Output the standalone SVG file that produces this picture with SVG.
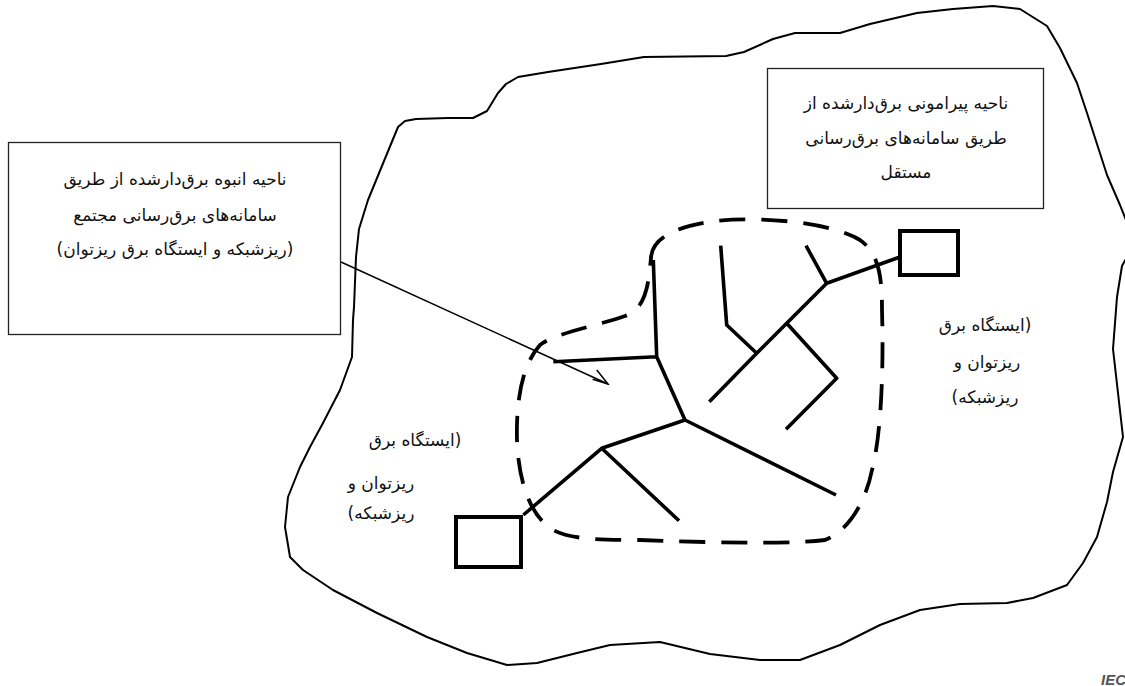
<svg xmlns="http://www.w3.org/2000/svg" width="1125" height="686" viewBox="0 0 1125 686">
<style>
.t{font-family:"DejaVu Sans","Noto Sans",sans-serif;font-size:17px;fill:#111;direction:rtl;text-anchor:middle}
.box{fill:#fff;stroke:#222;stroke-width:1.3}
.sq{fill:#fff;stroke:#000;stroke-width:4}
.ln{fill:none;stroke:#000;stroke-width:3.6;stroke-linecap:butt;stroke-linejoin:round}
.outline{fill:none;stroke:#000;stroke-width:2;stroke-linejoin:round}
.dash{fill:none;stroke:#000;stroke-width:3.8;stroke-dasharray:26 16}
</style>
<defs>
<marker id="ah" markerWidth="20" markerHeight="20" refX="18" refY="10" orient="auto" markerUnits="userSpaceOnUse">
<path d="M2,2 L18,10 L2,12" fill="none" stroke="#000" stroke-width="1.5"/>
</marker>
</defs>
<rect width="1125" height="686" fill="#fff"/>
<g id="outer-region">
<path class="outline" d="M398,127 L405,121 L416,119 L448,118 L473,118 L487,111 L498,93 L506,84 L518,77 L548,72 L601,64 L644,57 L726,56 L744,52 L773,39 L795,33 L840,33 L870,24 L917,13 L953,9 L993,6 L1020,9 L1047,26 L1060,48 L1077,83 L1087,113 L1097,144 L1107,175 L1120,205 L1128,225 L1128,255 L1122,266 L1117,297 L1113,349 L1118,393 L1123,437 L1113,472 L1107,502 L1097,537 L1083,563 L1067,585 L1033,598 L1007,603 L960,604 L920,610 L880,625 L840,645 L800,660 L760,660 L710,654 L660,642 L610,645 L577,653 L537,663 L507,665 L467,653 L427,637 L377,613 L333,590 L303,570 L290,557 L285,527 L288,497 L300,467 L310,447 L323,423 L340,390 L352,357 L353,320 L354,307 L356,257 L359,229 L368,200 L384,161 Z"/>
</g>
<g id="cluster-boundary">
<path class="dash" d="M651,258 C652,236 680,226 715,221 C760,216 830,222 860,240 C880,254 882,280 882,310 C884,380 880,440 872,470 C866,500 850,530 825,540 C780,545 700,542 640,540 C600,540 560,540 545,524 C525,505 518,470 517,440 C516,400 522,365 540,345 C555,333 600,325 625,316 C645,308 648,290 651,258 Z"/>
</g>
<g id="connectors">
<path class="ln" d="M900,257 L826.7,283.3 L806,245.7 M826.7,283.3 L786.7,323.3 L756.7,353.3 L709.3,401.7 M786.7,323.3 L836.7,378.3 L786,429.3 M756.7,353.3 L726.7,325 L720.7,245.7"/>
<path class="ln" d="M653.3,260 L656.7,356.7 L685,420 L836,495 M656.7,356.7 L553.3,361.7 M685,420 L601.7,448.3 L523.3,515 M601.7,448.3 L679,520.7"/>
<line x1="341" y1="262" x2="608" y2="384" stroke="#000" stroke-width="1.5" marker-end="url(#ah)"/>
</g>
<g id="node-left-box">
<rect class="box" x="8.5" y="142.5" width="332" height="192"/>
<text class="t" x="175" y="185">ناحیه انبوه برق‌دارشده از طریق</text>
<text class="t" x="175" y="221">سامانه‌های برق‌رسانی مجتمع</text>
<text class="t" x="175" y="255">(ریزشبکه و ایستگاه برق ریزتوان)</text>
</g>
<g id="node-right-box">
<rect class="box" x="767.5" y="68.5" width="276" height="140"/>
<text class="t" x="906" y="109">ناحیه پیرامونی برق‌دارشده از</text>
<text class="t" x="906" y="144">طریق سامانه‌های برق‌رسانی</text>
<text class="t" x="906" y="178">مستقل</text>
</g>
<g id="node-right-station">
<rect class="sq" x="900" y="231" width="58" height="44"/>
<text class="t" x="985" y="331">(ایستگاه برق</text>
<text class="t" x="987" y="368">ریزتوان و</text>
<text class="t" x="985" y="403">ریزشبکه)</text>
</g>
<g id="node-left-station">
<rect class="sq" x="456" y="517" width="65" height="50"/>
<text class="t" x="415" y="446">(ایستگاه برق</text>
<text class="t" x="381" y="489">ریزتوان و</text>
<text class="t" x="381" y="519">ریزشبکه)</text>
</g>
<text x="1101" y="685" font-family="Liberation Sans,sans-serif" font-size="15" font-style="italic" font-weight="bold" fill="#555">IEC</text>
</svg>
